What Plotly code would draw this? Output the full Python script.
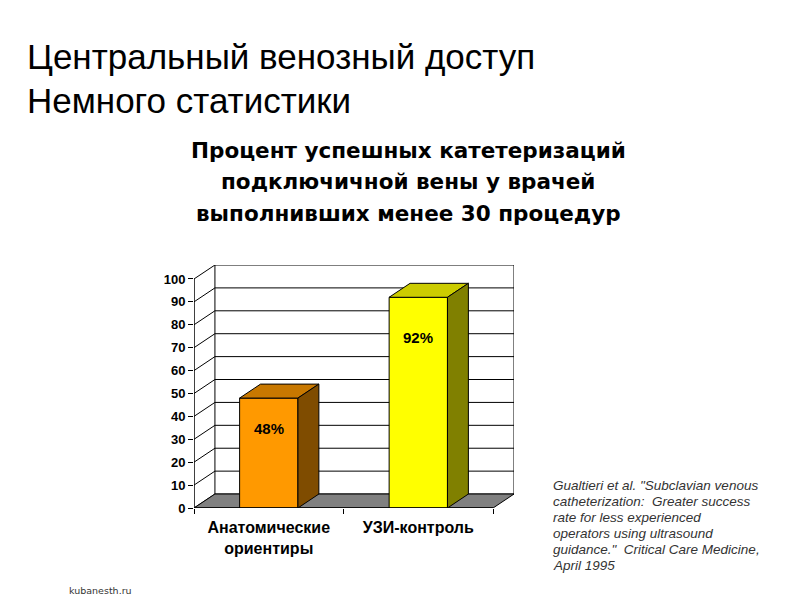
import plotly.graph_objects as go

categories = ["Анатомические<br>ориентиры", "УЗИ-контроль"]
values = [48, 92]
value_labels = ["48%", "92%"]
y_ticks = [0, 10, 20, 30, 40, 50, 60, 70, 80, 90, 100]

front_colors = ["#FF9900", "#FFFF00"]
top_colors = ["#C87800", "#CCCC00"]
side_colors = ["#7F4C00", "#808000"]

citation_lines = [
    "Gualtieri et al. \"Subclavian venous",
    "catheterization:  Greater success",
    "rate for less experienced",
    "operators using ultrasound",
    "guidance.\"  Critical Care Medicine,",
    "April 1995",
]

DX = 0.14   # depth offset in x units
DY = 6.1    # depth offset in y units
BW = 0.39   # bar width
YMAX = 100

fig = go.Figure()

xs = [i + 0.5 for i in range(len(categories))]
fig.add_trace(go.Bar(
    x=xs, y=values, width=BW,
    marker=dict(color=front_colors, line=dict(color="black", width=1)),
    hoverinfo="skip", showlegend=False,
))

shapes = []
shapes.append(dict(type="rect", xref="x", yref="y", x0=DX, x1=2 + DX, y0=DY, y1=YMAX + DY,
                   fillcolor="white", line=dict(color="black", width=1), layer="below"))
for v in y_ticks:
    if 0 < v < YMAX:
        shapes.append(dict(type="line", xref="x", yref="y", x0=DX, x1=2 + DX, y0=v + DY, y1=v + DY,
                           line=dict(color="black", width=1), layer="below"))
    shapes.append(dict(type="line", xref="x", yref="y", x0=0, x1=DX, y0=v, y1=v + DY,
                       line=dict(color="black", width=1), layer="below"))
shapes.append(dict(type="path", xref="x", yref="y",
                   path=f"M 0 0 L 2 0 L {2+DX} {DY} L {DX} {DY} Z",
                   fillcolor="#808080", line=dict(color="black", width=1), layer="below"))
shapes.append(dict(type="line", xref="x", yref="y", x0=0, x1=0, y0=0, y1=YMAX,
                   line=dict(color="black", width=1.5), layer="above"))
shapes.append(dict(type="line", xref="x", yref="y", x0=0, x1=2, y0=0, y1=0,
                   line=dict(color="black", width=1.5), layer="above"))

for x, v, tc, sc in zip(xs, values, top_colors, side_colors):
    x0, x1 = x - BW / 2, x + BW / 2
    shapes.append(dict(type="path", xref="x", yref="y",
                       path=f"M {x0} {v} L {x1} {v} L {x1+DX} {v+DY} L {x0+DX} {v+DY} Z",
                       fillcolor=tc, line=dict(color="black", width=1), layer="above"))
    shapes.append(dict(type="path", xref="x", yref="y",
                       path=f"M {x1} 0 L {x1+DX} {DY} L {x1+DX} {v+DY} L {x1} {v} Z",
                       fillcolor=sc, line=dict(color="black", width=1), layer="above"))

annotations = []
for x, v, lab, ys in zip(xs, values, value_labels, [-30, -40]):
    annotations.append(dict(x=x, y=v, xref="x", yref="y", text=lab, showarrow=False,
                            yshift=ys, font=dict(family="Liberation Sans, Arial", size=15,
                                                 color="black", weight="bold")))

title_font = dict(family="Liberation Sans, Arial", size=35, color="black")
annotations.append(dict(x=25, y=57, text="Центральный венозный доступ",
                        showarrow=False, xanchor="left", yanchor="middle", font=title_font))
annotations.append(dict(x=25, y=100, text="Немного статистики",
                        showarrow=False, xanchor="left", yanchor="middle", font=title_font))

chart_title = ["Процент успешных катетеризаций", "подключичной вены у врачей", "выполнивших менее 30 процедур"]
for i, line in enumerate(chart_title):
    annotations.append(dict(x=408, y=150 + i * 31.5, text=line, showarrow=False,
                            xanchor="center", yanchor="middle",
                            font=dict(family="DejaVu Sans", size=21.5, color="black", weight="bold")))

for i, line in enumerate(citation_lines):
    annotations.append(dict(x=551, y=485 + i * 16, text=line, showarrow=False, align="left",
                            xanchor="left", yanchor="middle",
                            font=dict(family="Liberation Sans, Arial", size=13.5, color="#333333",
                                      style="italic")))
annotations.append(dict(x=67, y=590, text="kubanesth.ru", showarrow=False, xanchor="left", yanchor="middle",
                        font=dict(family="DejaVu Sans", size=9.5, color="#333333")))

# page offset (body margin) and pixel -> paper conversion for free-standing texts
OFF = 8
W, H = 800, 600
ML, MT = 194 - OFF, 265 - OFF
PW, PH = 320, 243
MR, MB = W - ML - PW, H - MT - PH
for a in annotations:
    if a.get("xref") == "x":
        continue
    px, py = a["x"] - OFF, a["y"] - OFF
    a["xref"], a["yref"] = "paper", "paper"
    a["x"] = (px - ML) / PW
    a["y"] = (H - MB - py) / PH

fig.update_layout(
    width=W, height=H,
    margin=dict(l=ML, r=MR, t=MT, b=MB),
    paper_bgcolor="white", plot_bgcolor="rgba(0,0,0,0)",
    shapes=shapes, annotations=annotations,
    showlegend=False,
    xaxis=dict(range=[0, 2 + DX], tickvals=xs, ticktext=categories,
               ticks="", showgrid=False, zeroline=False, showline=False,
               ticklabelstandoff=8,
               tickfont=dict(family="Liberation Sans, Arial", size=16, color="black", weight="bold"),
               minor=dict(tickvals=[0, 1, 2], ticks="outside", ticklen=5, tickcolor="black", showgrid=False),
               fixedrange=True),
    yaxis=dict(range=[0, YMAX + DY], tickvals=y_ticks, ticks="outside", ticklen=5, tickcolor="black",
               showgrid=False, zeroline=False, showline=False,
               tickfont=dict(family="Liberation Sans, Arial", size=13, color="black", weight="bold"),
               fixedrange=True),
)

fig.write_html("out.html")
